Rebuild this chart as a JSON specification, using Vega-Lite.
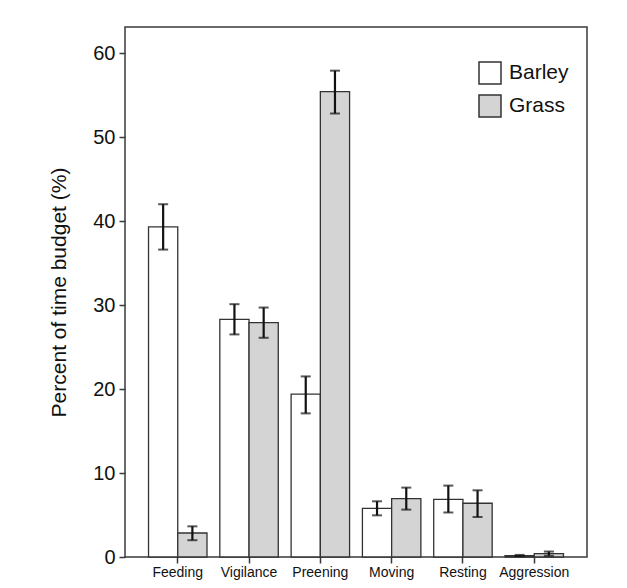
{
  "$schema": "https://vega.github.io/schema/vega-lite/v6.json",
  "autosize": {"type": "none"},
  "padding": {"left": 125, "top": 27, "right": 40, "bottom": 31},
  "width": 462,
  "height": 530,
  "background": "white",
  "config": {
    "font": "Liberation Sans",
    "view": {"stroke": "#3a3a3a", "strokeWidth": 1.5},
    "axis": {"grid": false, "domain": false, "tickColor": "#3a3a3a", "tickWidth": 1.5, "tickSize": 6, "labelColor": "#111", "titleColor": "#111", "titleFontWeight": "normal"}
  },
  "data": {
    "values": [
      {"behaviour": "Feeding", "crop": "Barley", "mean": 39.3, "lo": 36.6, "hi": 42.0},
      {"behaviour": "Feeding", "crop": "Grass", "mean": 2.86, "lo": 2.0, "hi": 3.65},
      {"behaviour": "Vigilance", "crop": "Barley", "mean": 28.3, "lo": 26.5, "hi": 30.1},
      {"behaviour": "Vigilance", "crop": "Grass", "mean": 27.9, "lo": 26.1, "hi": 29.7},
      {"behaviour": "Preening", "crop": "Barley", "mean": 19.4, "lo": 17.1, "hi": 21.5},
      {"behaviour": "Preening", "crop": "Grass", "mean": 55.4, "lo": 52.8, "hi": 57.9},
      {"behaviour": "Moving", "crop": "Barley", "mean": 5.8, "lo": 4.96, "hi": 6.63},
      {"behaviour": "Moving", "crop": "Grass", "mean": 6.95, "lo": 5.64, "hi": 8.26},
      {"behaviour": "Resting", "crop": "Barley", "mean": 6.85, "lo": 5.3, "hi": 8.5},
      {"behaviour": "Resting", "crop": "Grass", "mean": 6.4, "lo": 4.76, "hi": 7.94},
      {"behaviour": "Aggression", "crop": "Barley", "mean": 0.17, "lo": 0.1, "hi": 0.25},
      {"behaviour": "Aggression", "crop": "Grass", "mean": 0.4, "lo": 0.15, "hi": 0.65}
    ]
  },
  "encoding": {
    "x": {
      "field": "behaviour", "type": "nominal",
      "sort": ["Feeding", "Vigilance", "Preening", "Moving", "Resting", "Aggression"],
      "scale": {"paddingInner": 0.18, "paddingOuter": 0.33},
      "axis": {"title": null, "labelAngle": 0, "labelFontSize": 14, "labelPadding": 2}
    },
    "xOffset": {"field": "crop", "type": "nominal", "scale": {"paddingInner": 0, "paddingOuter": 0}}
  },
  "layer": [
    {
      "mark": {"type": "bar", "stroke": "#333", "strokeWidth": 1.3},
      "encoding": {
        "y": {
          "field": "mean", "type": "quantitative",
          "scale": {"domain": [0, 63.1], "nice": false, "zero": true},
          "axis": {"title": "Percent of time budget (%)", "values": [0, 10, 20, 30, 40, 50, 60], "labelFontSize": 20, "titleFontSize": 21, "labelPadding": 4, "titlePadding": 23}
        },
        "color": {
          "field": "crop", "type": "nominal",
          "scale": {"domain": ["Barley", "Grass"], "range": ["#ffffff", "#d4d4d4"]},
          "legend": {
            "title": null, "orient": "none", "legendX": 353, "legendY": 34, "padding": 0,
            "symbolType": "square", "symbolSize": 484, "symbolStrokeColor": "#333", "symbolStrokeWidth": 1.5, "symbolOpacity": 1,
            "labelFontSize": 21, "labelColor": "#111", "labelOffset": 7, "rowPadding": 5
          }
        }
      }
    },
    {
      "mark": {"type": "rule", "color": "#111", "strokeWidth": 2.2},
      "encoding": {"y": {"field": "lo", "type": "quantitative"}, "y2": {"field": "hi"}}
    },
    {
      "mark": {"type": "tick", "color": "#111", "thickness": 2, "size": 10},
      "encoding": {"y": {"field": "lo", "type": "quantitative"}}
    },
    {
      "mark": {"type": "tick", "color": "#111", "thickness": 2, "size": 10},
      "encoding": {"y": {"field": "hi", "type": "quantitative"}}
    }
  ]
}
